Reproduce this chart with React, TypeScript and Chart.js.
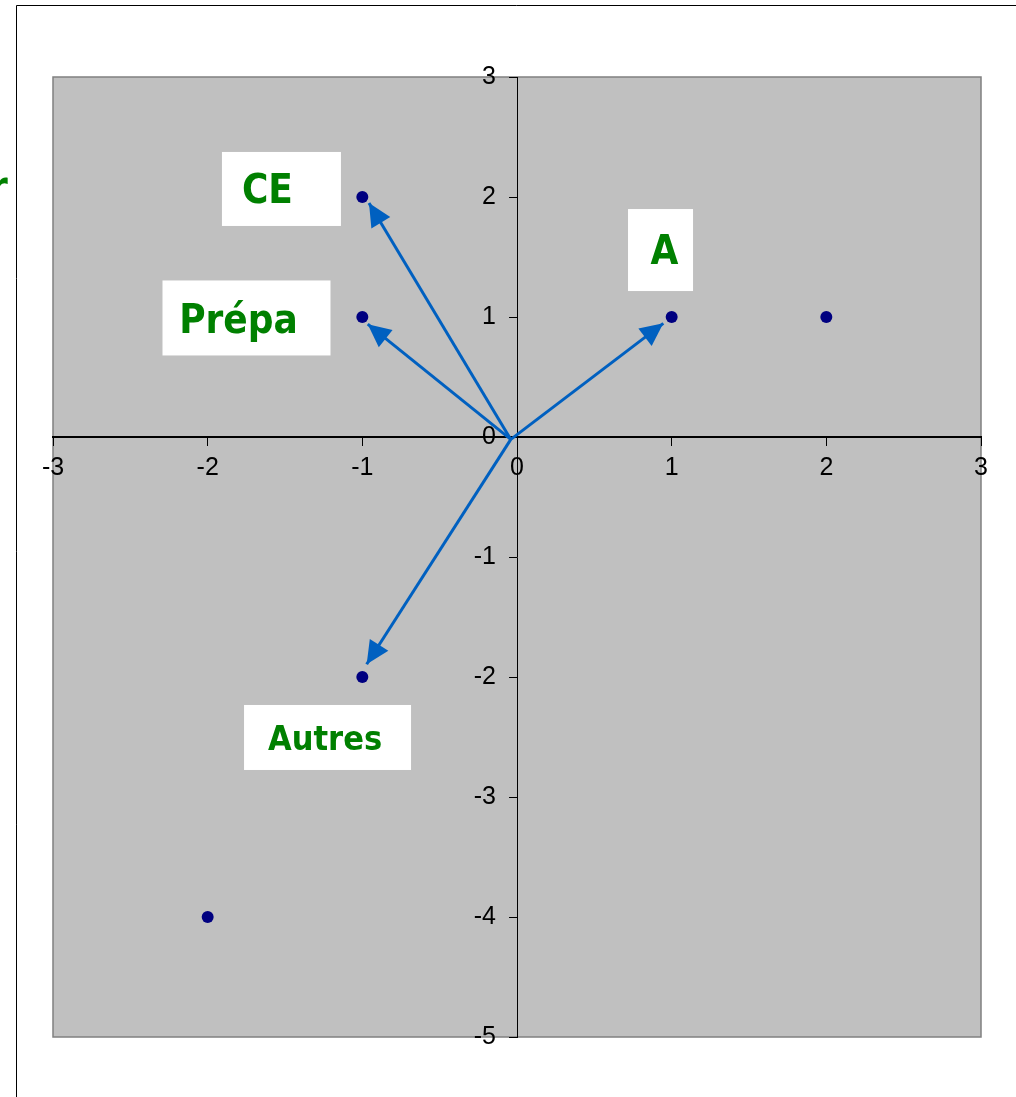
import React, { useEffect, useRef } from 'react';
import { Chart, registerables } from 'chart.js';

Chart.register(...registerables);

// ---- Data ----
const pointX = [-1, -1, 1, 2, -1, -2];
const pointY = [2, 1, 1, 1, -2, -4];

const arrowNames = ['CE', 'Prépa', 'A', 'Autres'];
const arrowStartX = -0.04;
const arrowStartY = -0.02;
const arrowEndX = [-0.957, -0.965, 0.946, -0.972];
const arrowEndY = [1.95, 0.94, 0.947, -1.894];

const xMin = -3;
const xMax = 3;
const yMin = -5;
const yMax = 3;

// ---- Label annotations (box centre in data units) ----
const labelTexts = ['CE', 'Prépa', 'A', 'Autres'];
const labelX = [-1.523, -1.749, 0.928, -1.225];
const labelY = [2.067, 0.992, 1.558, -2.504];
const labelBoxW = [119, 168, 65, 167];
const labelBoxH = [74, 75, 82, 65];
const labelTextDX = [-14, -8, 4, -2.5];
const labelTextDY = [14, 15, 14, 12.5];
const labelFontSize = [40, 40, 40, 34];

const GREEN = '#008000';
const ARROW_BLUE = '#0060C0';
const LABEL_FONT = '"DejaVu Sans Condensed", "DejaVu Sans", sans-serif';
const TICK_FONT = '"Liberation Sans Narrow", "Liberation Sans", Arial, sans-serif';

const backgroundPlugin = {
  id: 'bgPlugin',
  beforeDraw(chart: any) {
    const { ctx, chartArea } = chart;
    const { left, top, right, bottom } = chartArea;
    ctx.save();
    ctx.fillStyle = '#ffffff';
    ctx.fillRect(0, 0, chart.width, chart.height);
    // page frame
    ctx.strokeStyle = '#000000';
    ctx.lineWidth = 1;
    ctx.beginPath();
    ctx.moveTo(16.5, chart.height);
    ctx.lineTo(16.5, 5.5);
    ctx.lineTo(chart.width, 5.5);
    ctx.stroke();
    // cut-off label at the left edge
    ctx.fillStyle = GREEN;
    ctx.font = `bold 40px ${LABEL_FONT}`;
    ctx.textAlign = 'left';
    ctx.textBaseline = 'alphabetic';
    ctx.fillText('r', -10, 200);
    // plot area
    ctx.fillStyle = '#C0C0C0';
    ctx.fillRect(left, top, right - left, bottom - top);
    ctx.strokeStyle = '#808080';
    ctx.lineWidth = 1.5;
    ctx.strokeRect(left, top, right - left, bottom - top);
    ctx.restore();
  },
};

const annotationPlugin = {
  id: 'annotPlugin',
  afterDatasetsDraw(chart: any) {
    const { ctx } = chart;
    const xs = chart.scales.x;
    const ys = chart.scales.y;
    ctx.save();
    // arrowheads
    chart.data.datasets.forEach((ds: any, i: number) => {
      if (!ds.isArrow) return;
      const meta = chart.getDatasetMeta(i);
      const p0 = meta.data[0];
      const p1 = meta.data[1];
      const ang = Math.atan2(p1.y - p0.y, p1.x - p0.x);
      const len = 23;
      const half = 11;
      const bx = p1.x - len * Math.cos(ang);
      const by = p1.y - len * Math.sin(ang);
      ctx.fillStyle = ARROW_BLUE;
      ctx.beginPath();
      ctx.moveTo(p1.x, p1.y);
      ctx.lineTo(bx + half * Math.sin(ang), by - half * Math.cos(ang));
      ctx.lineTo(bx - half * Math.sin(ang), by + half * Math.cos(ang));
      ctx.closePath();
      ctx.fill();
    });
    // labels
    labelTexts.forEach((t, i) => {
      const cx = xs.getPixelForValue(labelX[i]);
      const cy = ys.getPixelForValue(labelY[i]);
      ctx.fillStyle = '#ffffff';
      ctx.fillRect(cx - labelBoxW[i] / 2, cy - labelBoxH[i] / 2, labelBoxW[i], labelBoxH[i]);
      ctx.fillStyle = GREEN;
      ctx.font = `bold ${labelFontSize[i]}px ${LABEL_FONT}`;
      ctx.textAlign = 'center';
      ctx.textBaseline = 'alphabetic';
      ctx.fillText(t, cx + labelTextDX[i], cy + labelTextDY[i]);
    });
    ctx.restore();
  },
};

export default function App() {
  const canvasRef = useRef<HTMLCanvasElement | null>(null);

  useEffect(() => {
    if (!canvasRef.current) return;
    const pointData = pointX.map((x, i) => ({ x, y: pointY[i] }));
    const arrowDatasets = arrowNames.map((name, i) => ({
      label: name,
      isArrow: true,
      data: [
        { x: arrowStartX, y: arrowStartY },
        { x: arrowEndX[i], y: arrowEndY[i] },
      ],
      showLine: true,
      borderColor: ARROW_BLUE,
      borderWidth: 3,
      pointRadius: 0,
      pointHoverRadius: 0,
      fill: false,
    }));

    const chart = new Chart(canvasRef.current, {
      type: 'scatter',
      data: {
        datasets: [
          {
            label: 'points',
            data: pointData,
            pointRadius: 6,
            pointBorderWidth: 0,
            backgroundColor: '#000080',
            borderColor: '#000080',
            pointStyle: 'circle',
          } as any,
          ...(arrowDatasets as any[]),
        ],
      },
      options: {
        animation: false,
        responsive: false,
        devicePixelRatio: 1,
        events: [],
        layout: { padding: { left: 53, top: 77, right: 35, bottom: 60 } },
        plugins: {
          legend: { display: false },
          tooltip: { enabled: false },
        },
        scales: {
          x: {
            type: 'linear',
            min: xMin,
            max: xMax,
            position: { y: 0 } as any,
            grid: {
              drawOnChartArea: false,
              drawTicks: true,
              tickLength: 8,
              color: '#000000',
              lineWidth: 1,
            },
            border: { display: true, color: '#000000', width: 2 },
            ticks: {
              stepSize: 1,
              color: '#000000',
              padding: 8,
              maxRotation: 0,
              autoSkip: false,
              font: { family: TICK_FONT, size: 25 },
            },
          },
          y: {
            type: 'linear',
            min: yMin,
            max: yMax,
            position: 'center',
            grid: {
              drawOnChartArea: false,
              drawTicks: true,
              tickLength: 8,
              color: '#000000',
              lineWidth: 1,
            },
            border: { display: true, color: '#000000', width: 1 },
            ticks: {
              stepSize: 1,
              color: '#000000',
              padding: 13,
              autoSkip: false,
              font: { family: TICK_FONT, size: 25 },
            },
          },
        },
      },
      plugins: [backgroundPlugin, annotationPlugin],
    });
    return () => chart.destroy();
  }, []);

  return (
    <div style={{ position: 'absolute', left: 0, top: 0, width: 1016, height: 1097, background: '#fff' }}>
      <canvas ref={canvasRef} width={1016} height={1097} style={{ display: 'block' }} />
    </div>
  );
}
